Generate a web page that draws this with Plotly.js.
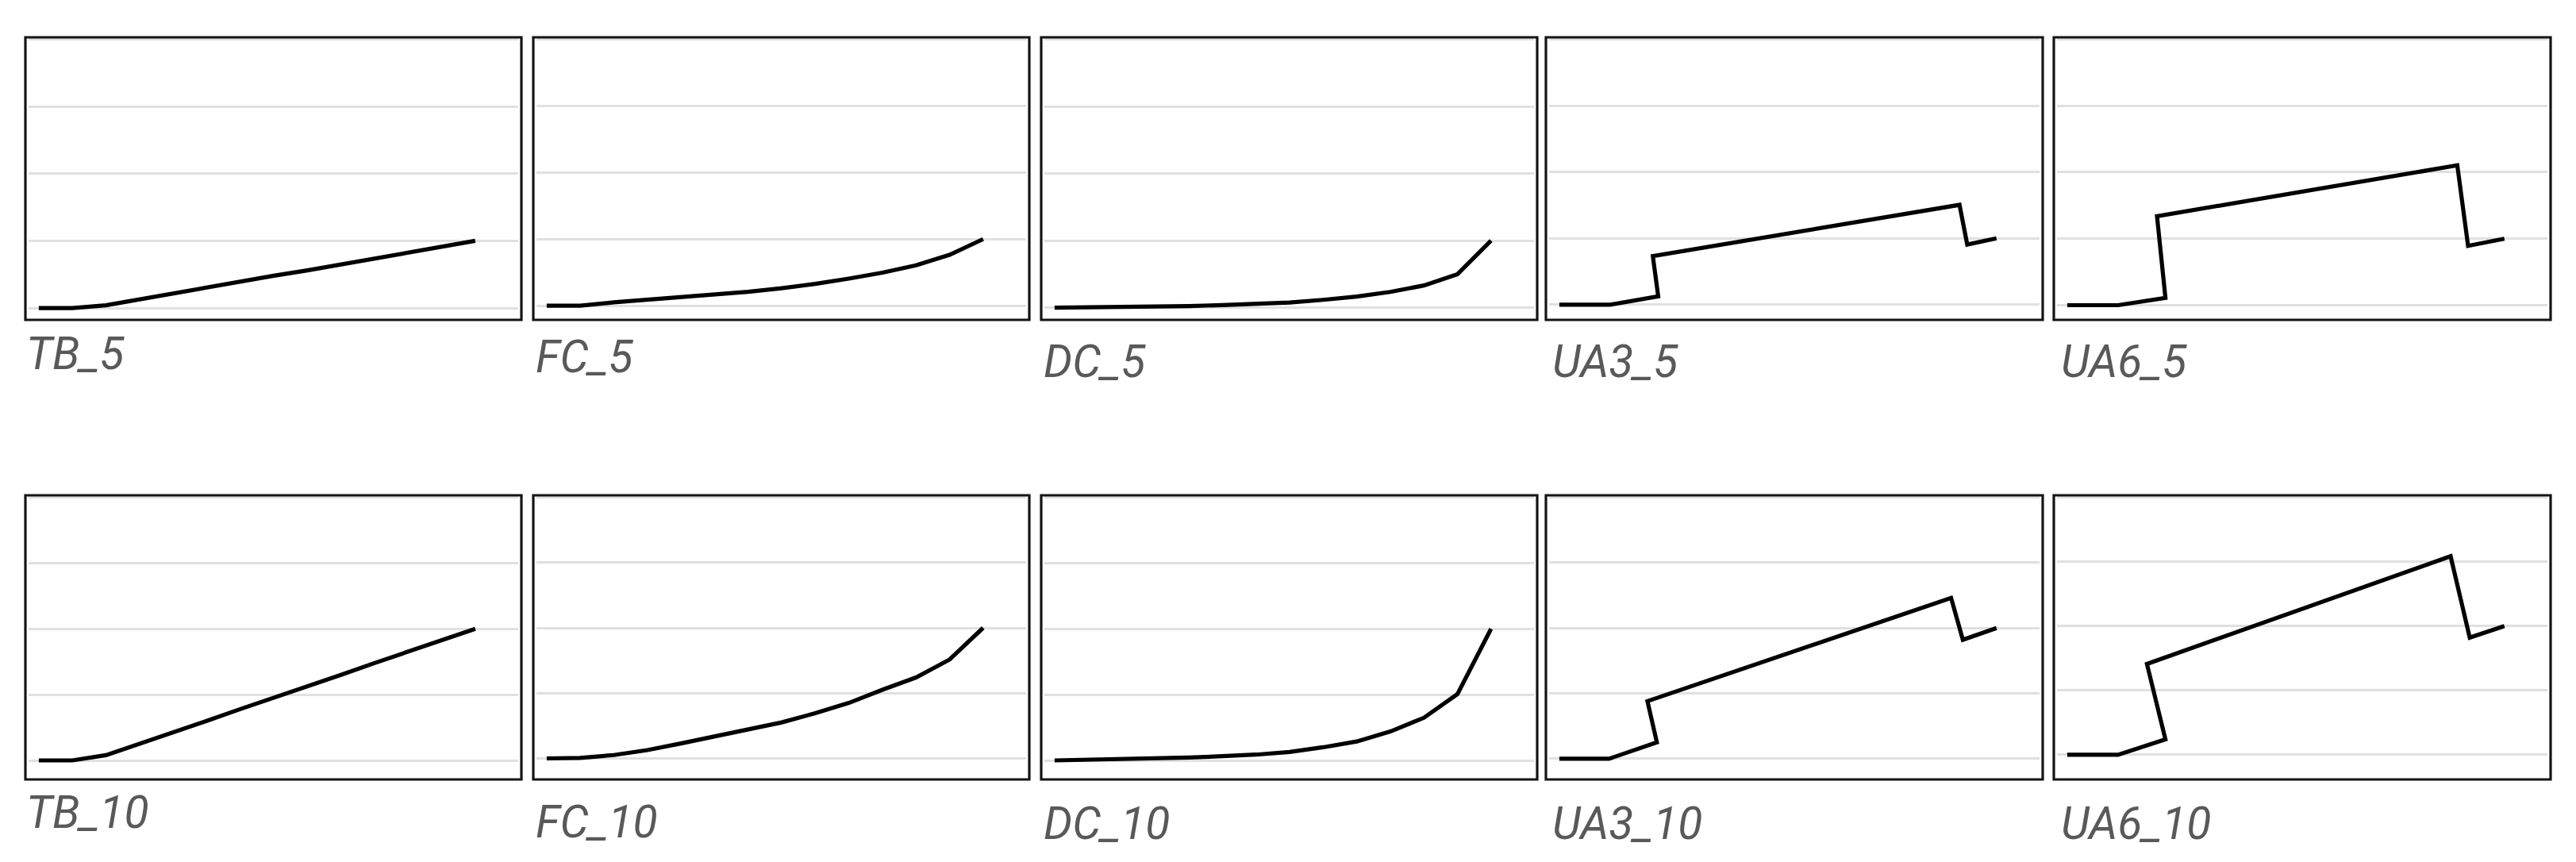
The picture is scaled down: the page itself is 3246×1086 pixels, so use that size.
<!DOCTYPE html>
<html>
<head>
<meta charset="utf-8">
<script src="https://cdn.plot.ly/plotly-3.0.1.min.js"></script>
<style>
html,body{margin:0;padding:0;background:#ffffff;overflow:hidden}
#chart{width:3246px;height:1086px}
</style>
</head>
<body>
<div id="chart"></div>
<script>
// ---------------- DATA ----------------
const PANEL_NAMES = ["TB_5","FC_5","DC_5","UA3_5","UA6_5","TB_10","FC_10","DC_10","UA3_10","UA6_10"];
const YEARS = [0,1,2,3,4,5,6,7,8,9,10,11,12,13];
const TB_5  = [0, 0, 0.2, 0.65, 1.1, 1.5, 1.95, 2.4, 2.8, 3.25, 3.7, 4.15, 4.55, 5];
const TB_10 = [0, 0, 0.4, 1.25, 2.1, 3.0, 3.9, 4.75, 5.6, 6.5, 7.4, 8.25, 9.1, 10];
const FC_5  = [0, 0, 0.26, 0.46, 0.62, 0.82, 1.05, 1.32, 1.64, 2.04, 2.48, 3.03, 3.82, 5];
const FC_10 = [0, 0.04, 0.26, 0.64, 1.15, 1.67, 2.17, 2.76, 3.46, 4.25, 5.26, 6.2, 7.57, 10];
const DC_5  = [0, 0.02, 0.05, 0.08, 0.12, 0.2, 0.3, 0.39, 0.59, 0.83, 1.18, 1.66, 2.5, 5];
const DC_10 = [0, 0.05, 0.08, 0.14, 0.22, 0.32, 0.44, 0.64, 1.0, 1.44, 2.2, 3.24, 5.04, 10];
const UA3_5_X  = [0, 1.52, 2.94, 2.78, 11.9, 12.13, 13];
const UA3_5_Y  = [0, 0, 0.63, 3.66, 7.52, 4.53, 5];
const UA6_5_X  = [0, 1.51, 2.92, 2.67, 11.6, 11.92, 13];
const UA6_5_Y  = [0, 0, 0.55, 6.69, 10.52, 4.46, 5];
const UA3_10_X = [0, 1.48, 2.9, 2.62, 11.65, 12.0, 13];
const UA3_10_Y = [0, 0, 1.25, 4.4, 12.3, 9.1, 10];
const UA6_10_X = [0, 1.51, 2.92, 2.37, 11.4, 11.97, 13];
const UA6_10_Y = [0, 0, 1.19, 7.05, 15.42, 9.1, 10];
const Y_TICKS = [0, 5, 10, 15, 20];

const SERIES = {
  "TB_5":   {x: YEARS, y: TB_5},
  "FC_5":   {x: YEARS, y: FC_5},
  "DC_5":   {x: YEARS, y: DC_5},
  "UA3_5":  {x: UA3_5_X, y: UA3_5_Y},
  "UA6_5":  {x: UA6_5_X, y: UA6_5_Y},
  "TB_10":  {x: YEARS, y: TB_10},
  "FC_10":  {x: YEARS, y: FC_10},
  "DC_10":  {x: YEARS, y: DC_10},
  "UA3_10": {x: UA3_10_X, y: UA3_10_Y},
  "UA6_10": {x: UA6_10_X, y: UA6_10_Y}
};

// ---------------- LAYOUT (pixels) ----------------
const W = 3246, H = 1086;
const COL_BOX = [[32,657],[672,1297],[1312,1937],[1948,2574],[2588,3214]];
const ROW_BOX = [[47,403],[624,982]];
const INSET = 4;
const XRANGE = [-0.305, 14.28];
const TOP_FRAC = 0.007;
const BOTTOM_FRAC = [0.042,0.050,0.043,0.054,0.052, 0.067,0.074,0.067,0.073,0.087];
const LABEL_X = [31,673,1313,1954,2595];
const LABEL_Y = [445,449,455,455,455, 1023,1035,1037,1037,1037];

const traces = [];
const layout = {
  width: W, height: H,
  margin: {l:0, r:0, t:0, b:0},
  paper_bgcolor: "#ffffff",
  plot_bgcolor: "#ffffff",
  showlegend: false,
  shapes: [],
  annotations: []
};

PANEL_NAMES.forEach((name, i) => {
  const row = Math.floor(i / 5), col = i % 5;
  const n = i + 1;
  const xa = "xaxis" + (n === 1 ? "" : n), ya = "yaxis" + (n === 1 ? "" : n);
  const xr = "x" + (n === 1 ? "" : n), yr = "y" + (n === 1 ? "" : n);
  const [bx0, bx1] = COL_BOX[col];
  const [by0, by1] = ROW_BOX[row];
  const b = BOTTOM_FRAC[i];
  const span = 20 / (1 - b - TOP_FRAC);

  traces.push({
    type: "scatter", mode: "lines",
    x: SERIES[name].x, y: SERIES[name].y,
    xaxis: xr, yaxis: yr,
    line: {color: "#000000", width: 5.2},
    hoverinfo: "skip"
  });

  layout[xa] = {
    domain: [(bx0 + INSET) / W, (bx1 - INSET) / W],
    range: XRANGE, showgrid: false, zeroline: false, showline: false,
    showticklabels: false, ticks: "", fixedrange: true, anchor: yr
  };
  layout[ya] = {
    domain: [1 - by1 / H, 1 - by0 / H],
    range: [-b * span, 20 + TOP_FRAC * span],
    tickmode: "array", tickvals: Y_TICKS,
    showgrid: true, gridcolor: "#e0e0e0", gridwidth: 3,
    zeroline: false, showline: false, showticklabels: false, ticks: "",
    fixedrange: true, anchor: xr
  };

  layout.shapes.push({
    type: "rect", xref: "paper", yref: "paper",
    x0: bx0 / W, x1: bx1 / W, y0: 1 - by1 / H, y1: 1 - by0 / H,
    line: {color: "#141414", width: 3.2}, fillcolor: "rgba(0,0,0,0)", layer: "above"
  });

  layout.annotations.push({
    xref: "paper", yref: "paper",
    x: LABEL_X[col] / W, y: 1 - LABEL_Y[i] / H,
    xanchor: "left", yanchor: "middle",
    text: name, showarrow: false,
    font: {family: "Roboto, 'Open Sans', sans-serif", size: 57, color: "#595959", style: "italic", weight: 400}
  });
});

Plotly.newPlot("chart", traces, layout, {staticPlot: true, displayModeBar: false});
</script>
</body>
</html>
